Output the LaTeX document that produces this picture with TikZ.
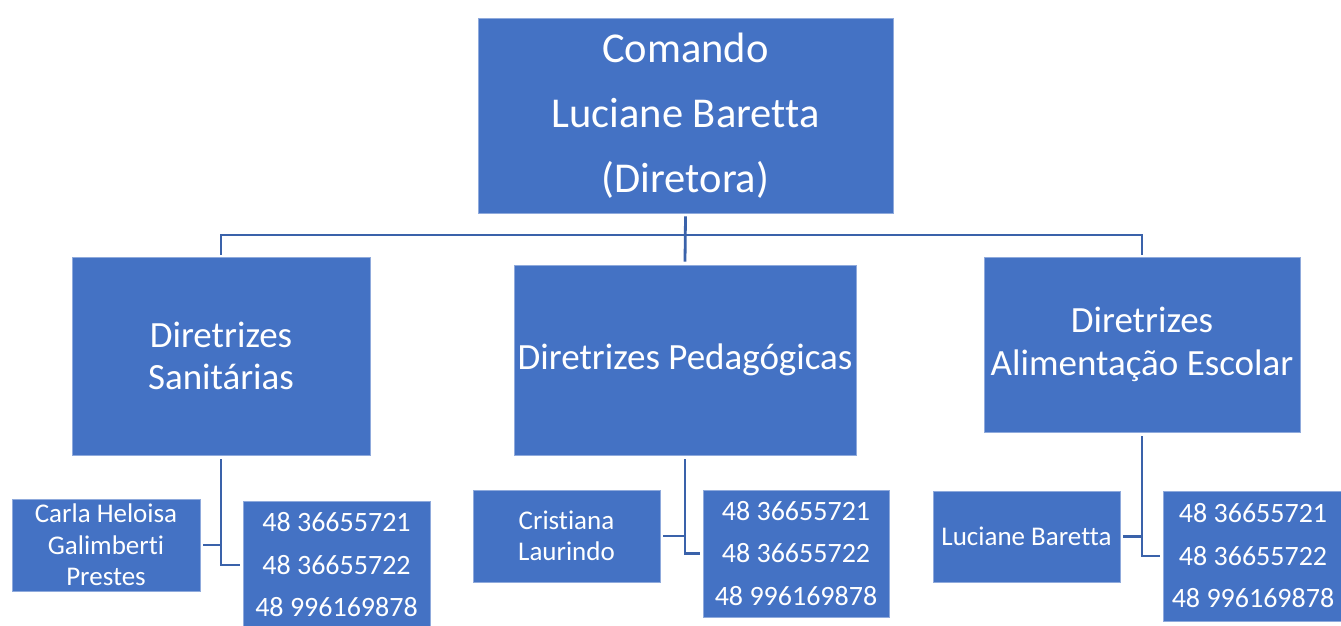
\documentclass[tikz,border=0pt]{standalone}
\usepackage{fontspec}
\setmainfont{Carlito}[Ligatures=NoCommon]
\definecolor{boxblue}{HTML}{4472C4}
\definecolor{lineblue}{HTML}{3A62AA}
\begin{document}
\begin{tikzpicture}[x=1pt,y=-1pt,
  box/.style={fill=boxblue, draw=boxblue!60!white, line width=0.6pt, text=white, align=center, inner sep=0pt, anchor=center},
  big/.style={font=\fontsize{42.5}{65}\selectfont},
  mid/.style={font=\fontsize{37}{42.5}\selectfont},
  small/.style={font=\fontsize{27}{31.5}\selectfont},
  phone/.style={font=\fontsize{28}{42.5}\selectfont},
  conn/.style={draw=lineblue, line width=2.8pt}]
\useasboundingbox (0,0) rectangle (1341,626);
\fill[white] (0,0) rectangle (1341,626);
% top level
\node[box,big,minimum width=415pt,minimum height=195pt] (top) at (685.5,115.5) {Comando\\Luciane Baretta\\(Diretora)};
% second level
\node[box,mid,minimum width=298pt,minimum height=198pt] (left) at (221,356) {Diretrizes\\Sanitárias};
\node[box,mid,minimum width=342pt,minimum height=190pt] (midb) at (685,360) {Diretrizes Pedagógicas};
\node[box,mid,minimum width=316pt,minimum height=175pt] (right) at (1142,344.5) {Diretrizes\\Alimentação Escolar};
% third level
\node[box,small,minimum width=188pt,minimum height=92pt] (n1) at (106,545) {Carla Heloisa\\Galimberti\\Prestes};
\node[box,phone,minimum width=187pt,minimum height=128pt] (p1) at (336.5,565) {48 36655721\\48 36655722\\48 996169878};
\node[box,small,minimum width=187pt,minimum height=92pt] (n2) at (566.5,536) {Cristiana\\Laurindo};
\node[box,phone,minimum width=186pt,minimum height=127pt] (p2) at (796,553.5) {48 36655721\\48 36655722\\48 996169878};
\node[box,small,minimum width=187pt,minimum height=91pt] (n3) at (1026.5,536.5) {Luciane Baretta};
\node[box,phone,minimum width=180pt,minimum height=130pt] (p3) at (1253,556) {48 36655721\\48 36655722\\48 996169878};
% connectors
\coordinate (hub) at (686,235);
\draw[conn] ([yshift=-3pt]top.south) -- ([yshift=3pt]midb.north);
\draw[conn] ([yshift=2pt]left.north) |- (hub) -| ([yshift=2pt]right.north);
\draw[conn] ([yshift=-4pt]left.south) |- ([xshift=-3pt]p1.west);
\draw[conn] ([xshift=3pt]n1.east) -- (n1.east -| left.south);
\draw[conn] ([yshift=-4pt]midb.south) |- ([xshift=-3pt]p2.west);
\draw[conn] ([xshift=3pt]n2.east) -- (n2.east -| midb.south);
\draw[conn] ([yshift=-4pt]right.south) |- ([xshift=-3pt]p3.west);
\draw[conn] ([xshift=3pt]n3.east) -- (n3.east -| right.south);
\end{tikzpicture}
\end{document}
